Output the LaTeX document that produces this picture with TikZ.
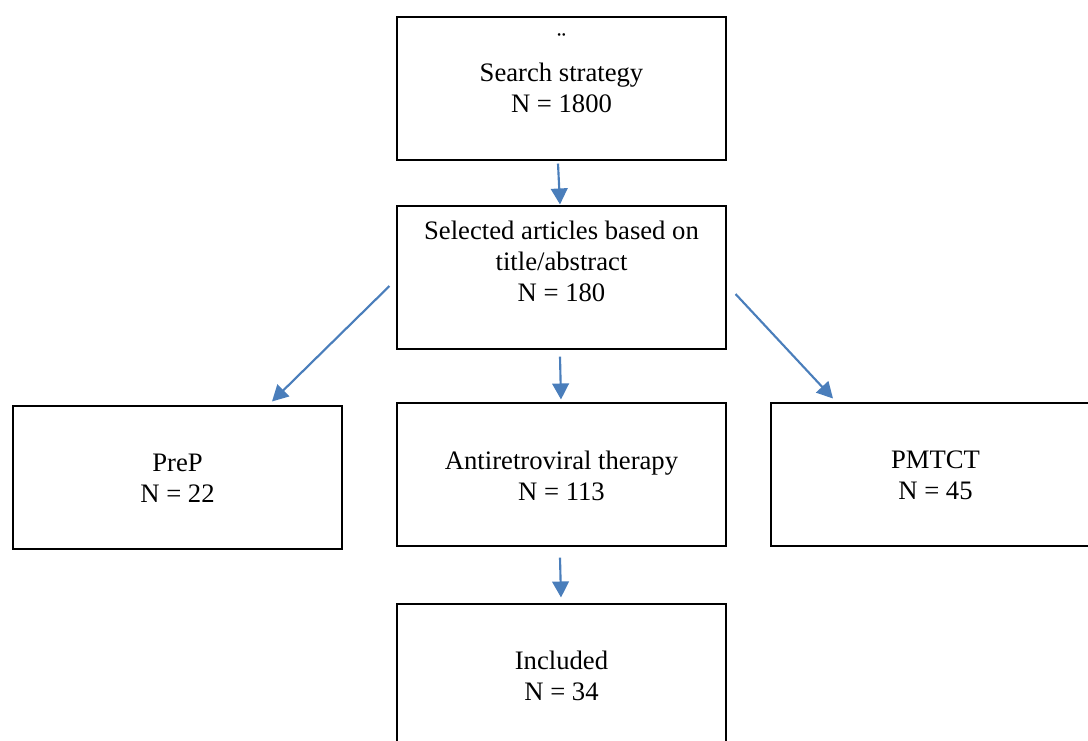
\documentclass[tikz,border=0pt]{standalone}
\usepackage{fontspec}
\setmainfont{Liberation Serif}
\usepackage{tikz}
\usetikzlibrary{arrows.meta,calc}
\usepackage{xcolor}
\definecolor{flowblue}{RGB}{74,126,187}

\tikzset{
  stagebox/.style={draw=black, line width=0.8pt, minimum width=246.75pt, minimum height=107.25pt, inner sep=0pt},
  stagetext/.style={align=center, inner sep=0pt, font=\fontsize{20}{23.25}\selectfont},
  flowarrow/.style={draw=flowblue, line width=1.6pt, -{Triangle[length=12pt,width=12.5pt]}}
}

\begin{document}
\begin{tikzpicture}[x=0.75pt,y=0.75pt,yscale=-1,xscale=1]
%set diagram to 1088 x 740
\clip (0,0) rectangle (1088,740);

%Shape: Rectangle
\node (search) [stagebox] at (561.5,88.5) {};
%Shape: Rectangle
\node (select) [stagebox] at (561.5,277.5) {};
%Shape: Rectangle
\node (prep) [stagebox] at (177.5,477.5) {};
%Shape: Rectangle
\node (art) [stagebox] at (561.5,474.5) {};
%Shape: Rectangle
\node (pmtct) [stagebox] at (935.5,474.5) {};
%Shape: Rectangle
\node (incl) [stagebox] at (561.5,675.5) {};

%Straight Lines
\draw [flowarrow] ($(search.south)+(-3.5,3)$) -- ($(select.north)+(-1.5,-1)$) ;
\draw [flowarrow] ($(select.south)+(-1.5,7)$) -- ($(art.north)+(-0.5,-3)$) ;
\draw [flowarrow] ($(art.south)+(-1.5,11)$) -- ($(incl.north)+(-0.5,-6)$) ;
\draw [flowarrow] ($(select.west)+(-7,8.5)$) -- ($(prep.north)+(94.5,-4)$) ;
\draw [flowarrow] ($(select.east)+(9,16.5)$) -- ($(pmtct.north)+(-102.5,-4)$) ;

% Text Node
\node (searchtext) [stagetext] at (561.5,73) {¨\\Search strategy\\N = 1800};
% Text Node
\node (selecttext) [stagetext] at (561.5,261) {Selected articles based on\\title/abstract\\N = 180};
% Text Node
\node (preptext) [stagetext] at (177.5,478) {PreP\\N = 22};
% Text Node
\node (arttext) [stagetext] at (561.5,475.5) {Antiretroviral therapy\\N = 113};
% Text Node
\node (pmtcttext) [stagetext] at (935.5,475.2) {PMTCT\\N = 45};
% Text Node
\node (incltext) [stagetext] at (561.5,676) {Included\\N = 34};

\end{tikzpicture}
\end{document}
